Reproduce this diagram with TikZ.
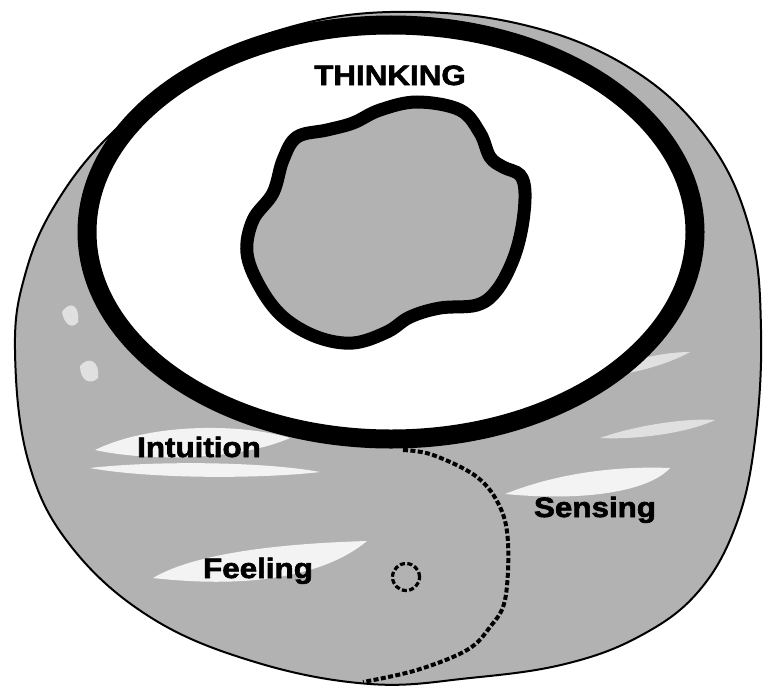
\documentclass[tikz,border=0pt]{standalone}
\usepackage{fontspec}
\newfontfamily\heavyfont[FakeStretch=1.12, FakeBold=2.2]{Liberation Sans}
\begin{document}
\begin{tikzpicture}[x=0.5pt, y=-0.5pt,
    func/.style={font=\heavyfont\bfseries\fontsize{14pt}{16pt}\selectfont, anchor=base, inner sep=0pt},
    rim/.style={draw=black, line width=1pt, fill=black!30},
    halo/.style={fill=white, opacity=0.85},
    seam/.style={line width=2pt, dash pattern=on 2.5pt off 1.2pt}
]
\useasboundingbox (0,0) rectangle (764,690);

% outer disc
\draw[rim] plot[smooth cycle, tension=0.65] coordinates {
  (390,12) (520,24) (630,68) (708,140) (750,230) (761,330) (755,440)
  (736,525) (698,592) (640,636) (565,664) (470,678) (370,684) (255,662)
  (150,617) (70,545) (28,460) (15,350) (25,275) (55,205) (110,135)
  (190,72) (280,30)};

% light streaks
\fill[halo] (95,450) .. controls (150,423) and (240,423) .. (290,438)
  .. controls (240,460) and (150,462) .. cycle;
\fill[halo] (90,468) .. controls (150,461) and (260,461) .. (320,472)
  .. controls (260,479) and (150,479) .. cycle;
\fill[halo] (153,578) .. controls (200,550) and (300,543) .. (367,541)
  .. controls (330,572) and (260,590) .. cycle;
\fill[halo] (505,494) .. controls (560,472) and (620,466) .. (670,468)
  .. controls (650,490) and (590,502) .. cycle;
\fill[halo, opacity=0.6] (590,378) .. controls (620,362) and (660,352) .. (690,352)
  .. controls (665,366) and (625,376) .. cycle;
\fill[halo, opacity=0.6] (600,438) .. controls (640,424) and (690,418) .. (715,420)
  .. controls (690,432) and (640,440) .. cycle;
\fill[halo, opacity=0.6] (62,312) .. controls (70,300) and (80,305) .. (78,322)
  .. controls (72,330) and (64,324) .. cycle;
\fill[halo, opacity=0.6] (80,366) .. controls (88,356) and (100,360) .. (98,378)
  .. controls (90,386) and (80,380) .. cycle;

% thinking field
\draw[line width=9.5pt, fill=white] (391,232) ellipse [x radius=304, y radius=207];

% the thinking function
\draw[line width=6.5pt, fill=black!30] plot[smooth cycle, tension=0.6] coordinates {
  (417,102) (460,110) (480,133) (490,157) (503,167) (520,175) (525,193)
  (522,227) (513,260) (497,290) (477,305) (440,308) (410,317) (387,332)
  (353,343) (317,337) (283,317) (260,287) (247,253) (253,220) (273,193)
  (283,160) (297,137) (327,130) (353,123) (380,110)};

% feeling / sensing border
\draw[seam] plot[smooth, tension=0.6] coordinates {
  (403,450) (433,455) (477,477) (500,507) (508,543) (505,600)
  (490,627) (467,650) (417,670) (363,682)};
\node[draw, circle, seam, line width=1.6pt, minimum size=13.5pt, inner sep=0pt] (seed) at (406,577) {};

% names
\node[func] (thinking) at (390,85) {THINKING};
\node[func] (intuition) at (199,457) {Intuition};
\node[func] (sensing) at (595,517) {Sensing};
\node[func] (feeling) at (258,578) {Feeling};

\end{tikzpicture}
\end{document}
